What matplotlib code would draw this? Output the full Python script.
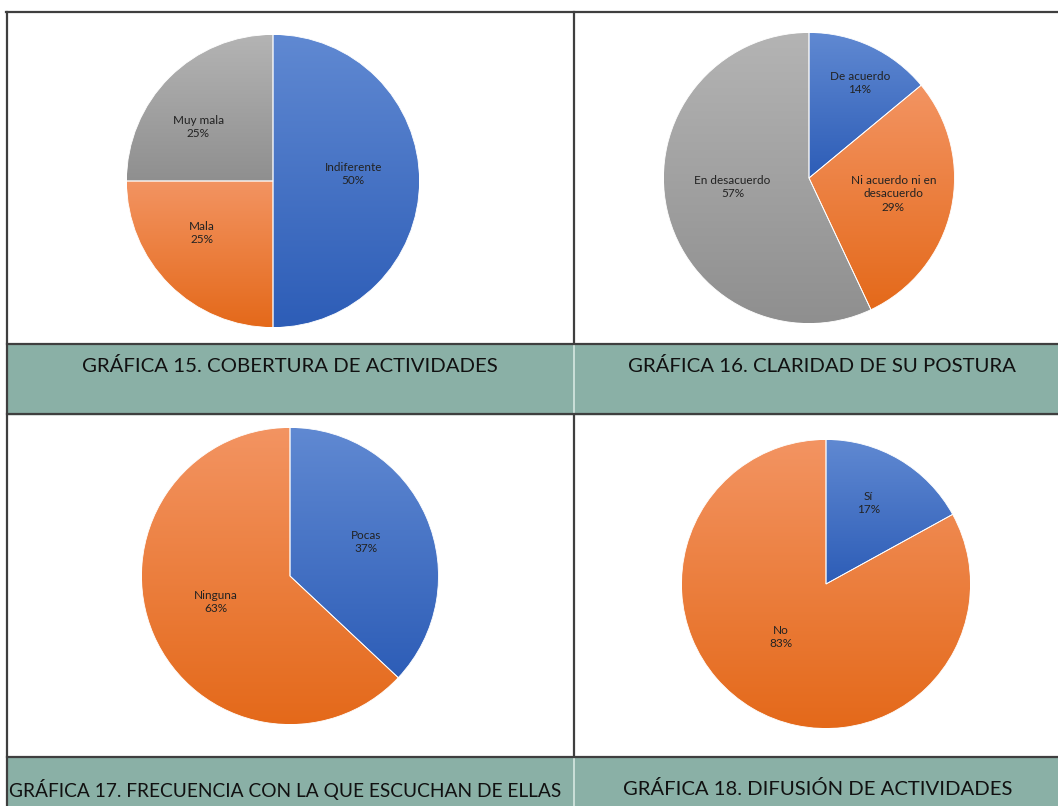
import numpy as np
import matplotlib
matplotlib.use("Agg")
import matplotlib.pyplot as plt
from matplotlib.colors import LinearSegmentedColormap

# ---- data ----
labels_15 = ["Indiferente", "Mala", "Muy mala"]
values_15 = [50, 25, 25]
labels_16 = ["De acuerdo", "Ni acuerdo ni en\ndesacuerdo", "En desacuerdo"]
values_16 = [14, 29, 57]
labels_17 = ["Pocas", "Ninguna"]
values_17 = [37, 63]
labels_18 = ["Sí", "No"]
values_18 = [17, 83]

titles = [
    "GRÁFICA 15. COBERTURA DE ACTIVIDADES",
    "GRÁFICA 16. CLARIDAD DE SU POSTURA",
    "GRÁFICA 17. FRECUENCIA CON LA QUE ESCUCHAN DE ELLAS",
    "GRÁFICA 18. DIFUSIÓN DE ACTIVIDADES",
]

# gradient (top, bottom) colors for each slice colour
grads = {
    "blue": ("#6089D2", "#2D5DB7"),
    "orange": ("#F39462", "#E4691A"),
    "gray": ("#B4B4B4", "#8F8F8F"),
}

W, H = 1058, 806
fig = plt.figure(figsize=(W / 100, H / 100), dpi=100)
fig.patch.set_facecolor("white")

# background axes in pixel coordinates for the table layout
bg = fig.add_axes([0, 0, 1, 1])
bg.set_xlim(0, W)
bg.set_ylim(H, 0)
bg.axis("off")

band = "#8AB0A6"
bg.add_patch(plt.Rectangle((7, 344), W - 7, 70, color=band, zorder=1))
bg.add_patch(plt.Rectangle((7, 757), W - 7, 60, color=band, zorder=1))
lc = "#3f3f3f"
lw = 1.6
bg.plot([6, W], [12, 12], color=lc, lw=lw, zorder=3)
bg.plot([7, 7], [12, H], color=lc, lw=lw, zorder=3)
bg.plot([574, 574], [12, 344], color=lc, lw=lw, zorder=3)
bg.plot([574, 574], [414, 757], color=lc, lw=lw, zorder=3)
bg.plot([574, 574], [344, 414], color="#d6e8e2", lw=1.2, zorder=3)
bg.plot([574, 574], [757, H], color="#d6e8e2", lw=1.2, zorder=3)
for yy in (344, 414, 757):
    bg.plot([7, W], [yy, yy], color=lc, lw=lw, zorder=3)

# captions: fit each to the width it has in the reference
cap_pos = [(290, 366), (822, 366), (285, 789), (818, 789)]
cap_width = [417, 390, 556, 390]
renderer = fig.canvas.get_renderer()
for (x, y), t, tw in zip(cap_pos, titles, cap_width):
    txt = bg.text(x, y, t, ha="center", va="center", fontsize=15,
                  family="Lato", color="#111111", zorder=4)
    bw = txt.get_window_extent(renderer).width
    txt.set_fontsize(15 * tw / bw)


def draw_pie(cx, cy, R, values, labels, colors, label_r, nudge):
    ax = fig.add_axes([(cx - R) / W, 1 - (cy + R) / H, 2 * R / W, 2 * R / H])
    wedges, _ = ax.pie(values, startangle=90, counterclock=False,
                       colors=[grads[c][1] for c in colors],
                       wedgeprops=dict(edgecolor="white", linewidth=0.6))
    for w, c in zip(wedges, colors):
        ext = w.get_path().get_extents()
        cmap = LinearSegmentedColormap.from_list("g", [grads[c][0], grads[c][1]])
        grad = np.linspace(0, 1, 256).reshape(-1, 1)
        im = ax.imshow(grad, cmap=cmap, aspect="auto", origin="upper",
                       extent=[ext.x0, ext.x1, ext.y0, ext.y1], zorder=1.5)
        im.set_clip_path(w)
        w.set_facecolor("none")
        w.set_zorder(2)
    total = sum(values)
    start = 90.0
    for v, lab, r, dn in zip(values, labels, label_r, nudge):
        ang = np.deg2rad(start - v / total * 180 + dn)
        start -= v / total * 360
        ax.text(r * np.cos(ang), r * np.sin(ang), f"{lab}\n{v}%",
                ha="center", va="center", fontsize=8.5, family="Lato",
                color="#222222", linespacing=1.25, zorder=3)
    ax.set_xlim(-1, 1)
    ax.set_ylim(-1, 1)
    ax.axis("off")


draw_pie(273, 181, 146.5, values_15, labels_15, ["blue", "orange", "gray"],
         [0.55, 0.6, 0.63], [5, -9, 9])
draw_pie(809, 178, 145.5, values_16, labels_16, ["blue", "orange", "gray"],
         [0.74, 0.59, 0.53], [-3, 2, -6])
draw_pie(290, 576, 148.5, values_17, labels_17, ["blue", "orange"],
         [0.56, 0.53], [1, -4])
draw_pie(826, 584, 144.5, values_18, labels_18, ["blue", "orange"],
         [0.63, 0.48], [3, -10])

fig.savefig("out.png", dpi=100)
